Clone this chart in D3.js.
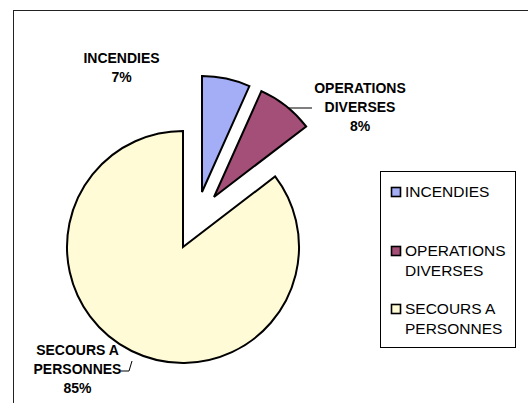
<!DOCTYPE html>
<html>
<head>
<meta charset="utf-8">
<script src="https://cdn.jsdelivr.net/npm/d3@7"></script>
<style>
  body { margin: 0; background: #fff; }
  svg { display: block; font-family: "Liberation Sans", Arial, sans-serif; }
</style>
</head>
<body>
<svg id="chart" width="528" height="403"></svg>
<script>
// data
var categories = ["INCENDIES", "OPERATIONS DIVERSES", "SECOURS A PERSONNES"];
var values = [6.7, 7.9, 85.4];
var percentLabels = ["7%", "8%", "85%"];
var labelLines = [["INCENDIES"], ["OPERATIONS", "DIVERSES"], ["SECOURS A", "PERSONNES"]];
var colors = ["#A3AEF7", "#A44F78", "#FFFBD6"];

var svg = d3.select("#chart");
var cx = 183, cy = 247, radius = 116;
// how far each slice is pulled out of the pie
var explode = [[19, -55], [31, -50], [0, 0]];

// chart frame
svg.append("rect")
  .attr("x", 13.5).attr("y", 10.5)
  .attr("width", 600).attr("height", 500)
  .attr("fill", "none").attr("stroke", "#222").attr("stroke-width", 1);

var pie = d3.pie().sort(null).value(function(d) { return d; });
var arcs = pie(values);
var arc = d3.arc().innerRadius(0).outerRadius(radius);

// leader lines
var leaders = [
  null,
  [[286, 108], [312, 108]],
  [[121, 371], [129, 371], [132, 361]]
];
svg.append("g").selectAll("path")
  .data(leaders.filter(function(d) { return d; }))
  .enter().append("path")
  .attr("d", function(d) { return d3.line()(d); })
  .attr("fill", "none").attr("stroke", "#000").attr("stroke-width", 1);

var g = svg.append("g").attr("transform", "translate(" + cx + "," + cy + ")");
g.selectAll("path.slice")
  .data(arcs)
  .enter().append("path")
  .attr("class", "slice")
  .attr("d", arc)
  .attr("transform", function(d, i) { return "translate(" + explode[i][0] + "," + explode[i][1] + ")"; })
  .attr("fill", function(d, i) { return colors[i]; })
  .attr("stroke", "#000").attr("stroke-width", 2).attr("stroke-linejoin", "miter");

// data labels
var labelPos = [[121.5, 63], [360, 92.5], [77.5, 355]];
labelPos.forEach(function(p, i) {
  var lines = labelLines[i].concat([percentLabels[i]]);
  var t = svg.append("text")
    .attr("text-anchor", "middle")
    .attr("font-size", "14px").attr("font-weight", "bold").attr("fill", "#000");
  lines.forEach(function(s, j) {
    t.append("tspan").attr("x", p[0]).attr("y", p[1] + j * 19.2).text(s);
  });
});

// legend
svg.append("rect")
  .attr("x", 380.5).attr("y", 171.5).attr("width", 135).attr("height", 176)
  .attr("fill", "#fff").attr("stroke", "#000").attr("stroke-width", 1);

var legendY = [197, 256, 314];
var leg = svg.append("g").selectAll("g")
  .data(categories)
  .enter().append("g")
  .attr("transform", function(d, i) { return "translate(391," + legendY[i] + ")"; });

leg.append("rect")
  .attr("x", 0.5).attr("y", -9.5).attr("width", 9).attr("height", 9)
  .attr("fill", function(d, i) { return colors[i]; })
  .attr("stroke", "#000").attr("stroke-width", 1.6);

leg.append("text")
  .attr("font-size", "15.5px").attr("fill", "#000")
  .each(function(d, i) {
    var t = d3.select(this);
    labelLines[i].forEach(function(s, j) {
      t.append("tspan").attr("x", 14).attr("y", j * 19.5).text(s);
    });
  });
</script>
</body>
</html>
